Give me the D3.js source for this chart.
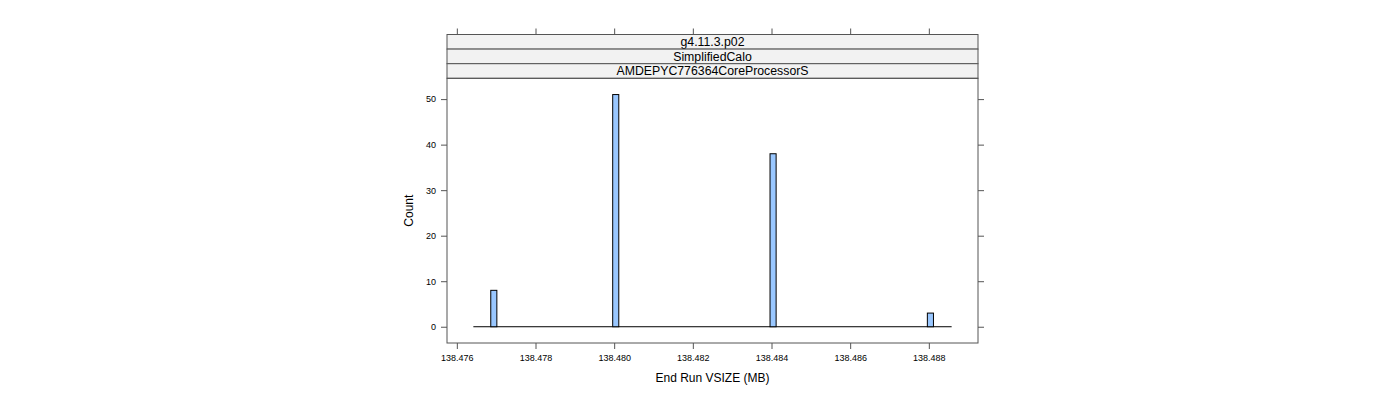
<!DOCTYPE html>
<html>
<head>
<meta charset="utf-8">
<script src="https://cdn.jsdelivr.net/npm/d3@7"></script>
<style>
  html, body { margin: 0; padding: 0; background: #fff; }
  svg { display: block; font-family: "Liberation Sans", Arial, sans-serif; }
</style>
</head>
<body>
<div id="chart"></div>
<script>
// histogram bins (centre of each non-empty bin, in MB) and their counts
const binCenters = [138.47694, 138.48004, 138.48404, 138.48804];
const binCounts = [8, 51, 38, 3];
const binWidth = 0.000155;
const histRange = [138.47642, 138.48858];
const xTicks = [138.476, 138.478, 138.480, 138.482, 138.484, 138.486, 138.488];
const yTicks = [0, 10, 20, 30, 40, 50];
const stripLabels = ['g4.11.3.p02', 'SimplifiedCalo', 'AMDEPYC776364CoreProcessorS'];
const xDomain = [138.47575, 138.48925];
const yDomain = [-3.57, 54.57];

const width = 1400;
const height = 400;
const panel = { left: 447, right: 978, top: 34.5, bottom: 343 };
const stripH = 14.6;
const plotTop = panel.top + stripH * stripLabels.length;

const svg = d3.select('#chart').append('svg')
  .attr('width', width)
  .attr('height', height);

const x = d3.scaleLinear().domain(xDomain).range([panel.left, panel.right]);
const y = d3.scaleLinear().domain(yDomain).range([panel.bottom, plotTop]);

// strips
const strips = svg.append('g').attr('class', 'strips');
stripLabels.forEach((label, i) => {
  const top = panel.top + i * stripH;
  strips.append('rect')
    .attr('x', panel.left).attr('y', top)
    .attr('width', panel.right - panel.left).attr('height', stripH)
    .attr('fill', '#f2f2f2')
    .attr('stroke', '#555').attr('stroke-width', 1);
  strips.append('text')
    .attr('x', (panel.left + panel.right) / 2)
    .attr('y', top + stripH / 2 + 4.3)
    .attr('text-anchor', 'middle')
    .attr('font-size', 12.3)
    .attr('fill', '#000')
    .text(label);
});

// histogram: empty bins collapse to a line along zero
svg.append('line')
  .attr('x1', x(histRange[0])).attr('x2', x(histRange[1]))
  .attr('y1', y(0)).attr('y2', y(0))
  .attr('stroke', '#000').attr('stroke-width', 1);

svg.append('g').attr('class', 'bars')
  .selectAll('rect')
  .data(binCenters.map((c, i) => ({ c, n: binCounts[i] })))
  .join('rect')
  .attr('x', (d) => x(d.c - binWidth / 2))
  .attr('width', (d) => x(d.c + binWidth / 2) - x(d.c - binWidth / 2))
  .attr('y', (d) => y(d.n))
  .attr('height', (d) => y(0) - y(d.n))
  .attr('fill', '#99c7ff')
  .attr('stroke', '#000').attr('stroke-width', 1);

// panel border
svg.append('rect')
  .attr('x', panel.left).attr('y', plotTop)
  .attr('width', panel.right - panel.left).attr('height', panel.bottom - plotTop)
  .attr('fill', 'none').attr('stroke', '#555').attr('stroke-width', 1);

// axes
const tickStyle = (g) => {
  g.select('.domain').remove();
  g.selectAll('.tick line').attr('stroke', '#555');
  g.selectAll('.tick text').attr('fill', '#000').attr('font-size', 9)
    .attr('font-family', '"Liberation Sans", Arial, sans-serif');
};

svg.append('g')
  .attr('transform', `translate(0,${panel.bottom})`)
  .call(d3.axisBottom(x).tickValues(xTicks).tickFormat(d3.format('.3f')).tickSizeOuter(0).tickSize(6).tickPadding(6))
  .call(tickStyle);

svg.append('g')
  .attr('transform', `translate(0,${panel.top})`)
  .call(d3.axisTop(x).tickValues(xTicks).tickFormat('').tickSizeOuter(0).tickSize(6))
  .call(tickStyle);

svg.append('g')
  .attr('transform', `translate(${panel.left},0)`)
  .call(d3.axisLeft(y).tickValues(yTicks).tickSizeOuter(0).tickSize(6).tickPadding(5))
  .call(tickStyle);

svg.append('g')
  .attr('transform', `translate(${panel.right},0)`)
  .call(d3.axisRight(y).tickValues(yTicks).tickFormat('').tickSizeOuter(0).tickSize(6))
  .call(tickStyle);

// axis titles
svg.append('text')
  .attr('x', (panel.left + panel.right) / 2)
  .attr('y', 382)
  .attr('text-anchor', 'middle')
  .attr('font-size', 12)
  .text('End Run VSIZE (MB)');

svg.append('text')
  .attr('transform', `translate(413,${(plotTop + panel.bottom) / 2}) rotate(-90)`)
  .attr('text-anchor', 'middle')
  .attr('font-size', 12)
  .text('Count');
</script>
</body>
</html>
